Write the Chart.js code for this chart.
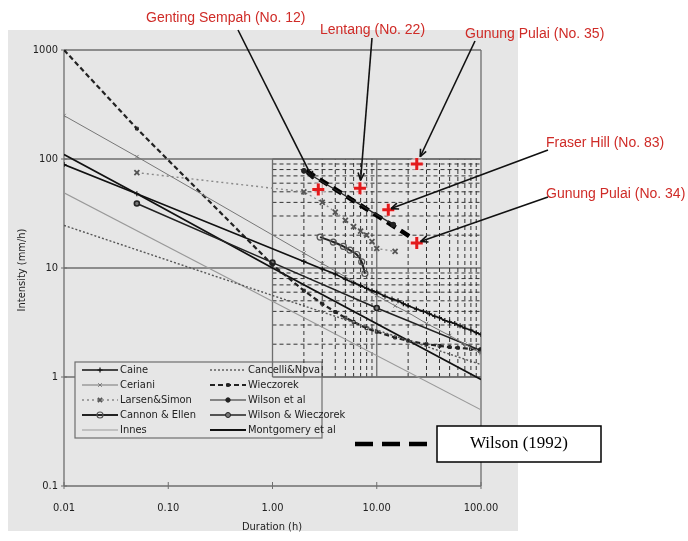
<!DOCTYPE html>
<html>
<head>
<meta charset="utf-8">
<script src="https://cdn.jsdelivr.net/npm/chart.js@4.4.1/dist/chart.umd.min.js"></script>
<style>
  html, body { margin: 0; padding: 0; background: #fff; }
  #wrap { width: 688px; height: 541px; position: relative; }
</style>
</head>
<body>
<div id="wrap"><canvas id="chart" width="688" height="541"></canvas></div>
<script>
// axis ticks
const xTicks = [0.01, 0.1, 1, 10, 100];
const xTickLabels = ['0.01', '0.10', '1.00', '10.00', '100.00'];
const yTicks = [0.1, 1, 10, 100, 1000];
const yTickLabels = ['0.1', '1', '10', '100', '1000'];

// threshold curves, duration (h) and intensity (mm/h)
const caineD = [0.01, 0.05, 2, 3, 4, 5, 6, 7, 8, 9, 10, 12, 14, 16, 18, 20, 24, 28, 32, 36, 40, 45, 50, 56, 63, 70, 80, 90, 100];
const caineI = [89, 48, 11.5, 9.8, 8.8, 7.9, 7.3, 6.9, 6.5, 6.2, 6.0, 5.5, 5.2, 5.0, 4.7, 4.5, 4.2, 4.0, 3.8, 3.6, 3.5, 3.3, 3.2, 3.1, 2.95, 2.8, 2.7, 2.55, 2.45];
const cancelliD = [0.01, 1, 100];
const cancelliI = [24.6, 5.6, 1.3];
const cerianiD = [0.01, 0.05, 2, 3, 5, 7, 10, 15, 20, 30, 50, 70, 100];
const cerianiI = [250, 105, 13.7, 11, 8.3, 6.9, 5.6, 4.5, 3.9, 3.1, 2.4, 2.0, 1.65];
const wieczorekD = [0.01, 0.05, 1, 2, 3, 4, 5, 6, 8, 10, 15, 20, 30, 40, 50, 60, 80, 100];
const wieczorekI = [1000, 190, 10.7, 6.2, 4.7, 3.95, 3.5, 3.2, 2.8, 2.6, 2.3, 2.15, 2.0, 1.93, 1.88, 1.85, 1.81, 1.79];
const larsenD = [0.05, 2, 3, 4, 5, 6, 7, 8, 9, 10, 15];
const larsenI = [75, 50, 40, 32.6, 27.4, 24, 21.8, 20, 17.5, 15.1, 14.2];
const wilsonD = [2, 14.4];
const wilsonI = [78, 25];
const cannonD = [2.86, 3.83, 4.78, 5.53, 6.42, 7.17, 7.7];
const cannonI = [19.2, 17.3, 15.8, 14.6, 13.3, 11.4, 8.9];
const wilsonWieczD = [0.05, 1, 10, 100];
const wilsonWieczI = [39, 11.2, 4.3, 1.75];
const innesD = [0.01, 100];
const innesI = [49, 0.5];
const montgomeryD = [0.01, 0.05, 1, 100];
const montgomeryI = [110, 48, 10, 0.95];
const wilson1992D = [2.1, 21.6];
const wilson1992I = [78, 19];

// rainfall stations marked with red crosses
const stationNames = ['Genting Sempah (No. 12)', 'Lentang (No. 22)', 'Gunung Pulai (No. 35)', 'Fraser Hill (No. 83)', 'Gunung Pulai (No. 34)'];
const stationD = [2.75, 6.9, 24.2, 12.9, 24.2];
const stationI = [52.5, 54, 90, 34.3, 17];

// where the red labels sit and where their arrows start (canvas px)
const labelPos = [[146, 18], [320, 30], [465, 34], [546, 143], [546, 194]];
const arrowFrom = [[238, 30], [372, 38], [475, 41], [548, 150], [548, 197]];
const arrowGap = [12, 8, 8, 3, 4];

const boxMinor = [2, 3, 4, 5, 6, 7, 8, 9, 20, 30, 40, 50, 60, 70, 80, 90];

function pts(ds, is) { return ds.map((d, i) => ({ x: d, y: is[i] })); }

const FONT = "'Liberation Sans Narrow', 'DejaVu Sans Condensed', 'Liberation Sans', Arial, sans-serif";

const datasets = [
  { label: 'Caine', data: pts(caineD, caineI), borderColor: '#111', backgroundColor: '#111', borderWidth: 1.6,
    pointStyle: 'cross', pointRadius: 2.5, pointBorderWidth: 1.2 },
  { label: 'Cancelli&Nova', data: pts(cancelliD, cancelliI), borderColor: '#555', borderWidth: 1.4, borderDash: [2, 2],
    pointRadius: 0 },
  { label: 'Ceriani', data: pts(cerianiD, cerianiI), borderColor: '#777', backgroundColor: '#777', borderWidth: 1,
    pointStyle: 'crossRot', pointRadius: 2.5, pointBorderWidth: 1 },
  { label: 'Wieczorek', data: pts(wieczorekD, wieczorekI), borderColor: '#222', backgroundColor: 'rgba(0,0,0,0)', borderWidth: 2.2,
    borderDash: [5, 3], pointStyle: 'rect', pointRadius: 2, pointBorderWidth: 1 },
  { label: 'Larsen&Simon', data: pts(larsenD, larsenI), borderColor: '#888', backgroundColor: '#666', borderWidth: 1.4,
    borderDash: [2, 3], pointStyle: 'crossRot', pointRadius: 3.5, pointBorderWidth: 1.8, pointBorderColor: '#555' },
  { label: 'Wilson et al', data: pts(wilsonD, wilsonI), borderColor: '#222', backgroundColor: '#222', borderWidth: 1.2,
    pointStyle: 'circle', pointRadius: 2.2 },
  { label: 'Cannon & Ellen', data: pts(cannonD, cannonI), borderColor: '#222', backgroundColor: 'rgba(0,0,0,0)', borderWidth: 2,
    pointStyle: 'circle', pointRadius: 3, pointBorderWidth: 1.2, pointBorderColor: '#555', tension: 0.3 },
  { label: 'Wilson & Wieczorek', data: pts(wilsonWieczD, wilsonWieczI), borderColor: '#222', backgroundColor: '#777', borderWidth: 1.6,
    pointStyle: 'circle', pointRadius: 2.5 },
  { label: 'Innes', data: pts(innesD, innesI), borderColor: '#999', borderWidth: 1.1, pointRadius: 0 },
  { label: 'Montgomery et al', data: pts(montgomeryD, montgomeryI), borderColor: '#111', borderWidth: 1.8, pointRadius: 0 },
  { label: 'Wilson (1992)', data: pts(wilson1992D, wilson1992I), borderColor: '#000', borderWidth: 4.5, borderDash: [10, 6],
    pointRadius: 0 },
  { label: 'station halo', data: pts(stationD, stationI), showLine: false, pointStyle: 'circle', pointRadius: 7,
    pointBorderWidth: 0, backgroundColor: 'rgba(255,225,225,0.55)', borderColor: 'rgba(0,0,0,0)', order: -1 },
  { label: 'stations', data: pts(stationD, stationI), showLine: false, borderColor: '#e3191b', pointStyle: 'cross',
    pointRadius: 6, pointBorderWidth: 3, pointBorderColor: '#e3191b', order: -2 }
];

const legendLeft = ['Caine', 'Ceriani', 'Larsen&Simon', 'Cannon & Ellen', 'Innes'];
const legendRight = ['Cancelli&Nova', 'Wieczorek', 'Wilson et al', 'Wilson & Wieczorek', 'Montgomery et al'];

function line(ctx, x1, y1, x2, y2) {
  ctx.beginPath(); ctx.moveTo(x1, y1); ctx.lineTo(x2, y2); ctx.stroke();
}

const decor = {
  id: 'decor',
  beforeDraw(chart) {
    const ctx = chart.ctx;
    ctx.save();
    ctx.fillStyle = '#fff';
    ctx.fillRect(0, 0, chart.width, chart.height);
    ctx.fillStyle = '#e6e6e6';
    ctx.fillRect(8, 30, 510, 501);
    ctx.restore();
  },
  beforeDatasetsDraw(chart) {
    const ctx = chart.ctx, xs = chart.scales.x, ys = chart.scales.y;
    const X = v => xs.getPixelForValue(v), Y = v => ys.getPixelForValue(v);
    ctx.save();
    // decade lines across the whole plot
    ctx.strokeStyle = '#6e6e6e';
    ctx.lineWidth = 1.3;
    [1, 10, 100, 1000].forEach(v => line(ctx, X(0.01), Y(v), X(100), Y(v)));
    line(ctx, X(0.01), Y(0.1), X(100), Y(0.1));
    line(ctx, X(0.01), Y(0.1), X(0.01), Y(1000));
    line(ctx, X(100), Y(0.1), X(100), Y(1000));
    // small ticks on the axes
    ctx.lineWidth = 1;
    xTicks.forEach(v => line(ctx, X(v), Y(0.1) - 4, X(v), Y(0.1) + 3));
    yTicks.forEach(v => line(ctx, X(0.01) - 3, Y(v), X(0.01) + 3, Y(v)));

    // legend
    const lx = 75, ly = 362, lw = 247, lh = 76;
    ctx.fillStyle = '#e6e6e6';
    ctx.fillRect(lx, ly, lw, lh);
    ctx.strokeStyle = '#6e6e6e';
    ctx.lineWidth = 1.2;
    ctx.strokeRect(lx, ly, lw, lh);
    ctx.font = '11px ' + FONT;
    ctx.textBaseline = 'middle';
    const drawEntry = (name, sx, tx, y) => {
      const ds = chart.data.datasets.find(d => d.label === name);
      ctx.save();
      ctx.strokeStyle = ds.borderColor;
      ctx.lineWidth = Math.min(ds.borderWidth, 2);
      ctx.setLineDash(ds.borderDash || []);
      line(ctx, sx, y, sx + 36, y);
      ctx.setLineDash([]);
      if (ds.pointRadius) {
        ctx.strokeStyle = ds.pointBorderColor || ds.borderColor;
        ctx.fillStyle = ds.backgroundColor || ds.borderColor;
        ctx.lineWidth = ds.pointBorderWidth || 1;
        Chart.helpers.drawPoint(ctx, { pointStyle: ds.pointStyle, radius: Math.min(ds.pointRadius, 3), rotation: 0, borderWidth: ctx.lineWidth }, sx + 18, y);
      }
      ctx.fillStyle = '#222';
      ctx.fillText(name, tx, y);
      ctx.restore();
    };
    legendLeft.forEach((n, i) => drawEntry(n, 82, 120, ly + 8 + i * 15));
    legendRight.forEach((n, i) => drawEntry(n, 210, 248, ly + 8 + i * 15));

    // detailed grid in the 1-100 h / 1-100 mm/h block
    ctx.strokeStyle = '#333';
    ctx.lineWidth = 1;
    ctx.setLineDash([4, 3]);
    boxMinor.forEach(v => line(ctx, X(v), Y(1), X(v), Y(100)));
    boxMinor.forEach(v => line(ctx, X(1), Y(v), X(100), Y(v)));
    ctx.setLineDash([]);
    ctx.strokeStyle = '#6e6e6e';
    ctx.lineWidth = 1.3;
    [1, 10].forEach(v => line(ctx, X(v), Y(1), X(v), Y(100)));
    line(ctx, X(1), Y(1), X(100), Y(1));
    line(ctx, X(1), Y(100), X(100), Y(100));

    // axis titles
    ctx.fillStyle = '#222';
    ctx.font = '11px ' + FONT;
    ctx.textAlign = 'center';
    ctx.textBaseline = 'middle';
    ctx.fillText('Duration (h)', 272, 527);
    ctx.save();
    ctx.translate(22, 270);
    ctx.rotate(-Math.PI / 2);
    ctx.fillText('Intensity (mm/h)', 0, 0);
    ctx.restore();
    ctx.restore();
  },
  afterDatasetsDraw(chart) {
    const ctx = chart.ctx, xs = chart.scales.x, ys = chart.scales.y;
    ctx.save();
    // station labels and arrows
    ctx.font = "14px 'Liberation Sans', Arial, sans-serif";
    ctx.textBaseline = 'middle';
    ctx.textAlign = 'left';
    stationNames.forEach((name, i) => {
      ctx.fillStyle = '#cf2b27';
      ctx.fillText(name, labelPos[i][0], labelPos[i][1]);
      const px = xs.getPixelForValue(stationD[i]), py = ys.getPixelForValue(stationI[i]);
      const [fx, fy] = arrowFrom[i];
      const ang = Math.atan2(py - fy, px - fx);
      const tx = px - Math.cos(ang) * arrowGap[i], ty = py - Math.sin(ang) * arrowGap[i];
      ctx.strokeStyle = '#111';
      ctx.lineWidth = 1.6;
      line(ctx, fx, fy, tx, ty);
      const h = 8;
      line(ctx, tx, ty, tx - h * Math.cos(ang - 0.4), ty - h * Math.sin(ang - 0.4));
      line(ctx, tx, ty, tx - h * Math.cos(ang + 0.4), ty - h * Math.sin(ang + 0.4));
    });
    // Wilson (1992) key
    ctx.strokeStyle = '#000';
    ctx.lineWidth = 4.5;
    ctx.setLineDash([18, 9]);
    line(ctx, 355, 444, 427, 444);
    ctx.setLineDash([]);
    ctx.fillStyle = '#fff';
    ctx.fillRect(437, 426, 164, 36);
    ctx.lineWidth = 1.5;
    ctx.strokeRect(437, 426, 164, 36);
    ctx.fillStyle = '#000';
    ctx.font = "17px 'Liberation Serif', 'Times New Roman', serif";
    ctx.textAlign = 'center';
    ctx.fillText('Wilson (1992)', 519, 444);
    ctx.restore();
  }
};

new Chart(document.getElementById('chart'), {
  type: 'scatter',
  data: { datasets: datasets.map(d => Object.assign({ showLine: true, fill: false }, d)) },
  options: {
    responsive: false,
    devicePixelRatio: 1,
    animation: false,
    layout: { padding: { left: 0, top: 50, right: 207, bottom: 0 } },
    plugins: { legend: { display: false }, tooltip: { enabled: false } },
    scales: {
      x: {
        type: 'logarithmic', min: 0.01, max: 100,
        afterBuildTicks: s => { s.ticks = xTicks.map(v => ({ value: v })); },
        afterFit: s => { s.height = 55; },
        ticks: { callback: (v, i) => xTickLabels[i], autoSkip: false, maxRotation: 0, padding: 16,
          color: '#222', font: { size: 11, family: FONT } },
        grid: { display: false, drawTicks: false },
        border: { display: false }
      },
      y: {
        type: 'logarithmic', min: 0.1, max: 1000,
        afterBuildTicks: s => { s.ticks = yTicks.map(v => ({ value: v })); },
        afterFit: s => { s.width = 64; },
        ticks: { callback: (v, i) => yTickLabels[i], autoSkip: false, padding: 6,
          color: '#222', font: { size: 11, family: FONT } },
        grid: { display: false, drawTicks: false },
        border: { display: false }
      }
    }
  },
  plugins: [decor]
});
</script>
</body>
</html>
